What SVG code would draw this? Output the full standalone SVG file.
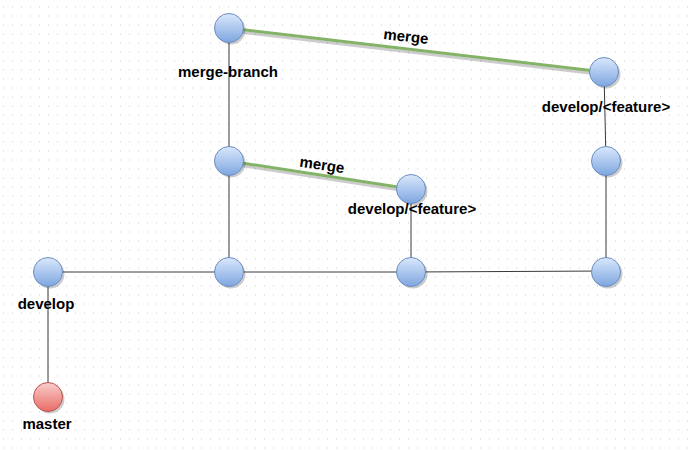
<svg xmlns="http://www.w3.org/2000/svg" width="690" height="450" viewBox="0 0 690 450">
<defs>
<pattern id="grid" x="3" y="6.5" width="9" height="9" patternUnits="userSpaceOnUse">
<rect x="0" y="0" width="1" height="1" fill="#cccccc"/>
</pattern>
<linearGradient id="blueL" x1="0" y1="0" x2="0" y2="1">
<stop offset="0" stop-color="#dae8fc"/>
<stop offset="1" stop-color="#7ea6e0"/>
</linearGradient>
<linearGradient id="redL" x1="0" y1="0" x2="0" y2="1">
<stop offset="0" stop-color="#f8cecc"/>
<stop offset="1" stop-color="#ea6b66"/>
</linearGradient>
</defs>
<style>
.node{stroke:#6c8ebf;stroke-width:1;fill:url(#blueL)}
.red{stroke:#b85450;stroke-width:1;fill:url(#redL)}
.shadow{fill:#000;opacity:0.2}
.edge{stroke:#3a3a3a;stroke-width:1;fill:none}
.merge{stroke:#82b366;stroke-width:3;fill:none}
.mshadow{stroke:#000;opacity:0.2;stroke-width:3;fill:none}
text{font-family:"Liberation Sans",Arial,sans-serif;font-weight:bold;font-size:15px;fill:#000;text-anchor:middle}
</style>
<rect width="690" height="450" fill="#fff"/>
<rect width="690" height="450" fill="url(#grid)"/>
<g id="connectors">
<line class="edge" x1="229" y1="28" x2="229" y2="161"/>
<line class="edge" x1="229" y1="161" x2="229" y2="272"/>
<line class="edge" x1="604" y1="72" x2="606" y2="161"/>
<line class="edge" x1="606" y1="161" x2="606" y2="272"/>
<line class="edge" x1="411" y1="189" x2="411" y2="272"/>
<line class="edge" x1="48" y1="272" x2="229" y2="272"/>
<line class="edge" x1="229" y1="272" x2="411" y2="272"/>
<line class="edge" x1="411" y1="272" x2="606" y2="271"/>
<line class="edge" x1="48" y1="272" x2="48" y2="397"/>
<line class="mshadow" x1="231" y1="31" x2="606" y2="75"/>
<line class="merge" x1="229" y1="28" x2="604" y2="72"/>
<line class="mshadow" x1="231" y1="164" x2="413" y2="192"/>
<line class="merge" x1="229" y1="161" x2="411" y2="189"/>
<text x="406" y="41.5" transform="rotate(6.6 406 36.5)">merge</text>
<text x="322" y="170" transform="rotate(8.8 322 165)">merge</text>
</g>
<g id="n1"><circle class="shadow" cx="231" cy="30" r="14.5"/><circle class="node" cx="229" cy="28" r="14.5"/><text x="228" y="77">merge-branch</text></g>
<g id="n2"><circle class="shadow" cx="606" cy="74" r="14.5"/><circle class="node" cx="604" cy="72" r="14.5"/><text x="606" y="112">develop/&lt;feature&gt;</text></g>
<g id="n3"><circle class="shadow" cx="231" cy="163" r="14.5"/><circle class="node" cx="229" cy="161" r="14.5"/></g>
<g id="n4"><circle class="shadow" cx="413" cy="191" r="14.5"/><circle class="node" cx="411" cy="189" r="14.5"/><text x="412" y="214">develop/&lt;feature&gt;</text></g>
<g id="n5"><circle class="shadow" cx="608" cy="163" r="14.5"/><circle class="node" cx="606" cy="161" r="14.5"/></g>
<g id="develop"><circle class="shadow" cx="50" cy="274" r="14.5"/><circle class="node" cx="48" cy="272" r="14.5"/><text x="46" y="309">develop</text></g>
<g id="n6"><circle class="shadow" cx="231" cy="274" r="14.5"/><circle class="node" cx="229" cy="272" r="14.5"/></g>
<g id="n7"><circle class="shadow" cx="413" cy="274" r="14.5"/><circle class="node" cx="411" cy="272" r="14.5"/></g>
<g id="n8"><circle class="shadow" cx="608" cy="274" r="14.5"/><circle class="node" cx="606" cy="272" r="14.5"/></g>
<g id="master"><circle class="shadow" cx="50" cy="399" r="14.5"/><circle class="red" cx="48" cy="397" r="14.5"/><text x="47" y="429">master</text></g>
</svg>
